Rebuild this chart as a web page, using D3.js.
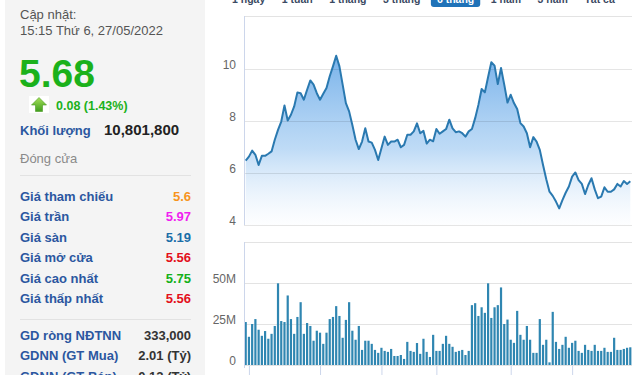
<!DOCTYPE html>
<html lang="vi">
<head>
  <meta charset="utf-8">
  <title>Biểu đồ giá 6 tháng</title>
  <script src="https://d3js.org/d3.v7.min.js"></script>
  <style>
    body { margin: 0; background: #fff; }
    svg { display: block; font-family: Arial, "Liberation Sans", sans-serif; }
  </style>
</head>
<body>
<div id="chart"></div>
<script>
  // --- data ---
  var closes = [6.48, 6.63, 6.86, 6.70, 6.31, 6.66, 6.66, 6.74, 6.83, 7.28,
    7.66, 7.98, 8.60, 8.02, 8.24, 8.56, 9.10, 9.07, 8.82, 9.20,
    9.56, 9.40, 9.07, 8.82, 9.05, 9.27, 9.72, 10.10, 10.51, 10.10,
    9.40, 8.69, 8.37, 7.85, 7.28, 6.92, 7.21, 7.72, 7.21, 7.17,
    6.89, 6.50, 6.95, 7.40, 7.08, 7.21, 7.21, 7.28, 6.99, 7.08,
    7.47, 7.47, 7.60, 7.91, 7.53, 7.62, 7.13, 7.28, 7.22, 7.69,
    7.51, 7.60, 7.69, 8.05, 7.72, 7.57, 7.60, 7.53, 7.40, 7.60,
    7.69, 8.11, 8.62, 9.23, 9.10, 9.69, 10.26, 10.13, 9.42, 10.04,
    9.40, 8.71, 9.01, 8.69, 8.46, 7.92, 7.79, 7.53, 6.99, 7.38,
    7.21, 6.89, 6.31, 5.76, 5.28, 5.12, 4.90, 4.64, 4.96, 5.24,
    5.48, 5.86, 6.02, 5.73, 5.58, 5.19, 5.54, 5.80, 5.37, 5.03,
    5.09, 5.45, 5.28, 5.28, 5.37, 5.58, 5.48, 5.69, 5.58, 5.68];

  // volume, millions of shares
  var volumes = [26.2, 17.2, 25, 28, 21.5, 17.8, 20.7, 16, 19, 23.8,
    49.8, 26.8, 26.2, 42.4, 28, 19, 29.3, 38.3, 19, 25.6,
    23.8, 14.8, 20.9, 19.7, 12.9, 19.7, 28, 29.3, 35.9, 29.9,
    16.6, 27.5, 38.3, 20.9, 15.4, 23.8, 9.2, 14.8, 14.8, 12.9,
    9.2, 7.4, 10.5, 8.6, 8, 9.8, 5.5, 5.5, 6.1, 3.7,
    14.1, 8.6, 8, 13.4, 6.8, 16, 8, 4.9, 18.4, 8.6,
    8.6, 12.9, 17.8, 12.9, 11.1, 8, 8.6, 9.2, 6.1, 8.6,
    36.5, 37.7, 29.9, 35.2, 31.8, 49.8, 28.7, 35.2, 36.5, 47.3,
    25, 27.7, 15.4, 13.5, 33, 18.4, 15.4, 23.8, 15.4, 7.4,
    7.4, 28, 12.3, 15.4, 1.6, 32.4, 14.1, 9.8, 12.3, 17.2,
    10.5, 13.5, 14.8, 8.6, 7.4, 12.3, 9.2, 8.6, 12.3, 8.6,
    8.6, 10.5, 8, 8, 16.6, 9.2, 9.2, 9.8, 10.5, 10.8];

  var monthTicks = [1, 23, 42, 59, 82, 101];   // first session of each month
  var priceTicks = [4, 6, 8, 10];
  var volumeTicks = [0, 25, 50, 75];

  var tabs = ["1 ngày", "1 tuần", "1 tháng", "3 tháng", "6 tháng", "1 năm", "3 năm", "Tất cả"];
  var activeTab = "6 tháng";

  var statLabels = ["Giá tham chiếu", "Giá trần", "Giá sàn", "Giá mở cửa", "Giá cao nhất", "Giá thấp nhất"];
  var statValues = ["5.6", "5.97", "5.19", "5.56", "5.75", "5.56"];
  var foreignLabels = ["GD ròng NĐTNN", "GDNN (GT Mua)", "GDNN (GT Bán)"];
  var foreignValues = ["333,000", "2.01 (Tỷ)", "0.12 (Tỷ)"];

  // --- styles ---
  var statColors = ["#f7941d", "#f01ef0", "#1a6ea8", "#e3101b", "#13b01a", "#e3101b"];
  var labelBlue = "#2b57a0";
  var lineColor = "#2a79b0";
  var barColor = "#2f86b1";
  var gridColor = "#e3e3e3";
  var axisColor = "#ccd6eb";

  var W = 640, H = 375;
  var svg = d3.select("#chart").append("svg").attr("width", W).attr("height", H);
  var defs = svg.append("defs");

  // ---------- left info panel ----------
  var panel = svg.append("g");
  panel.append("rect").attr("x", 5).attr("y", 0).attr("width", 200).attr("height", H).attr("fill", "#f4f4f4");

  panel.append("text").attr("x", 20).attr("y", 19).attr("font-size", 13).attr("fill", "#555").text("Cập nhật:");
  panel.append("text").attr("x", 20).attr("y", 35).attr("font-size", 13).attr("fill", "#555").text("15:15 Thứ 6, 27/05/2022");
  panel.append("text").attr("x", 19).attr("y", 87).attr("font-size", 39).attr("font-weight", "bold")
    .attr("fill", "#1bb11b").text("5.68");

  // green up arrow
  var ag = defs.append("linearGradient").attr("id", "arrowGrad").attr("x1", 0).attr("y1", 0).attr("x2", 0).attr("y2", 1);
  ag.append("stop").attr("offset", 0).attr("stop-color", "#a6e05a");
  ag.append("stop").attr("offset", 1).attr("stop-color", "#3f9e1c");
  panel.append("rect").attr("x", 29).attr("y", 96).attr("width", 20).attr("height", 17).attr("fill", "#fff");
  panel.append("path").attr("d", "M39,97.5 L46.5,105 L42.5,105 L42.5,111.5 L35.5,111.5 L35.5,105 L31.5,105 Z")
    .attr("fill", "url(#arrowGrad)").attr("stroke", "#4a9a24").attr("stroke-width", 0.6);
  panel.append("text").attr("x", 56).attr("y", 110).attr("font-size", 12.5).attr("font-weight", "bold")
    .attr("fill", "#1bb11b").text("0.08 (1.43%)");

  panel.append("text").attr("x", 20).attr("y", 135).attr("font-size", 13).attr("font-weight", "bold")
    .attr("fill", labelBlue).text("Khối lượng");
  panel.append("text").attr("x", 104).attr("y", 135).attr("font-size", 15).attr("font-weight", "bold")
    .attr("fill", "#222").text("10,801,800");
  panel.append("text").attr("x", 20).attr("y", 163).attr("font-size", 13).attr("fill", "#8a8a8a").text("Đóng cửa");
  panel.append("line").attr("x1", 20).attr("x2", 191).attr("y1", 175.5).attr("y2", 175.5).attr("stroke", "#e2e2e2");

  var rowY = d3.scaleLinear().domain([0, 5]).range([201, 303]);
  statLabels.forEach(function(lbl, i) {
    panel.append("text").attr("x", 20).attr("y", rowY(i)).attr("font-size", 13).attr("font-weight", "bold")
      .attr("fill", labelBlue).text(lbl);
    panel.append("text").attr("x", 191).attr("y", rowY(i)).attr("font-size", 13).attr("font-weight", "bold")
      .attr("text-anchor", "end").attr("fill", statColors[i]).text(statValues[i]);
  });
  panel.append("line").attr("x1", 20).attr("x2", 191).attr("y1", 319.5).attr("y2", 319.5).attr("stroke", "#e2e2e2");
  foreignLabels.forEach(function(lbl, i) {
    var yy = 340 + i * 20.3;
    panel.append("text").attr("x", 20).attr("y", yy).attr("font-size", 13).attr("font-weight", "bold")
      .attr("fill", labelBlue).text(lbl);
    panel.append("text").attr("x", 191).attr("y", yy).attr("font-size", 13).attr("font-weight", "bold")
      .attr("text-anchor", "end").attr("fill", "#333").text(foreignValues[i]);
  });

  // ---------- range tabs (cut at the top) ----------
  var tx = 232;
  tabs.forEach(function(t) {
    var active = t === activeTab;
    var tg = svg.append("g");
    var box = tg.append("rect");
    var txt = tg.append("text").attr("x", tx).attr("y", 3).attr("font-size", 10.5).attr("font-weight", "bold")
      .attr("fill", active ? "#fff" : "#3b4a63").text(t);
    var w = txt.node().getComputedTextLength();
    if (active) {
      box.attr("x", tx - 6).attr("y", -8).attr("width", w + 12).attr("height", 15)
        .attr("rx", 3).attr("fill", "#1f72b8");
    } else {
      box.remove();
    }
    tx += w + 16.5;
  });

  // ---------- scales ----------
  var x = d3.scaleLinear().domain([0, closes.length - 1]).range([245.7, 630.3]);
  var yP = d3.scaleLinear().domain([4, 12]).range([225, 17]);
  var yV = d3.scaleLinear().domain([0, 75]).range([365, 242]);
  var plotL = 244, plotR = 632;

  // ---------- price chart ----------
  var grad = defs.append("linearGradient").attr("id", "areaGrad").attr("x1", 0).attr("y1", 0).attr("x2", 0).attr("y2", 1);
  grad.append("stop").attr("offset", 0).attr("stop-color", "#78b2ea").attr("stop-opacity", 1);
  grad.append("stop").attr("offset", 0.55).attr("stop-color", "#a9cff3").attr("stop-opacity", 0.75);
  grad.append("stop").attr("offset", 1).attr("stop-color", "#d8e9fa").attr("stop-opacity", 0.05);

  svg.append("line").attr("x1", plotL).attr("x2", plotR).attr("y1", 16.5).attr("y2", 16.5).attr("stroke", gridColor);

  var area = d3.area().x(function(d, i) { return x(i); }).y0(yP(4)).y1(function(d) { return yP(d); });
  var line = d3.line().x(function(d, i) { return x(i); }).y(function(d) { return yP(d); });

  svg.append("path").datum(closes).attr("d", area).attr("fill", "url(#areaGrad)");

  var gP = svg.append("g").attr("transform", "translate(" + plotL + ",0)")
    .call(d3.axisLeft(yP).tickValues(priceTicks).tickSize(-(plotR - plotL)).tickPadding(8));
  gP.select(".domain").remove();
  gP.selectAll("line").attr("stroke", "rgba(0,0,0,0.1)");
  gP.selectAll("text").attr("fill", "#666").attr("font-size", 12).attr("dy", -1)
    .attr("font-family", "Arial, 'Liberation Sans', sans-serif");

  svg.append("path").datum(closes).attr("d", line).attr("fill", "none")
    .attr("stroke", lineColor).attr("stroke-width", 2).attr("stroke-linejoin", "round");

  svg.append("line").attr("x1", plotL + 0.5).attr("x2", plotL + 0.5).attr("y1", 16).attr("y2", 225)
    .attr("stroke", axisColor);

  // ---------- volume chart ----------
  var gV = svg.append("g").attr("transform", "translate(" + plotL + ",0)")
    .call(d3.axisLeft(yV).tickValues(volumeTicks).tickSize(-(plotR - plotL)).tickPadding(8)
      .tickFormat(function(v) { return v === 75 ? "" : v === 0 ? "0" : v + "M"; }));
  gV.select(".domain").remove();
  gV.selectAll("line").attr("stroke", gridColor);
  gV.selectAll("text").attr("fill", "#666").attr("font-size", 12).attr("dy", -1)
    .attr("font-family", "Arial, 'Liberation Sans', sans-serif");

  svg.selectAll(".vol").data(volumes).enter().append("rect")
    .attr("class", "vol")
    .attr("x", function(d, i) { return x(i) - 1.1; })
    .attr("y", function(d) { return yV(d); })
    .attr("width", 2.2)
    .attr("height", function(d) { return yV(0) - yV(d); })
    .attr("fill", barColor);

  svg.append("line").attr("x1", plotL + 0.5).attr("x2", plotL + 0.5).attr("y1", 242).attr("y2", 368)
    .attr("stroke", axisColor);

  var gX = svg.append("g").attr("transform", "translate(0,366)")
    .call(d3.axisBottom(x).tickValues(monthTicks).tickSize(9).tickFormat(""));
  gX.select(".domain").remove();
  gX.selectAll("line").attr("stroke", axisColor);
</script>
</body>
</html>
